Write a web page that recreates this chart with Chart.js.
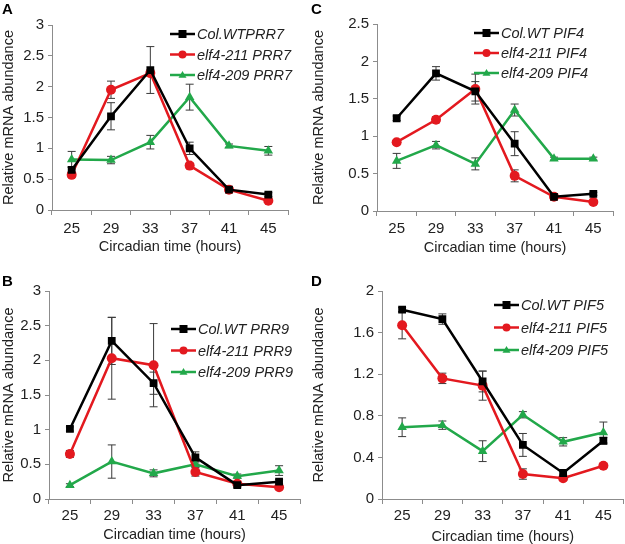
<!DOCTYPE html>
<html>
<head>
<meta charset="utf-8">
<script src="https://cdn.jsdelivr.net/npm/chart.js@4/dist/chart.umd.min.js"></script>
<style>
  body { margin: 0; background: #fff; }
  #wrap { position: relative; width: 625px; height: 544px; overflow: hidden; }
  .panel { position: absolute; }
  .tag { position: absolute; font: bold 15px "Liberation Sans", Arial, sans-serif; color: #000; }
</style>
</head>
<body>
<div id="wrap">
  <div class="panel" style="left:0;top:0;width:310px;height:270px"><canvas id="chartA"></canvas></div>
  <div class="panel" style="left:310px;top:0;width:315px;height:270px"><canvas id="chartC"></canvas></div>
  <div class="panel" style="left:0;top:270px;width:310px;height:274px"><canvas id="chartB"></canvas></div>
  <div class="panel" style="left:310px;top:270px;width:319px;height:274px"><canvas id="chartD"></canvas></div>
  <div class="tag" style="left:2px;top:0px">A</div>
  <div class="tag" style="left:311px;top:0px">C</div>
  <div class="tag" style="left:2px;top:272px">B</div>
  <div class="tag" style="left:311px;top:272px">D</div>
</div>
<script>
// --- DATA ---
const hours = ['25', '29', '33', '37', '41', '45'];

// A: PRR7
const prr7Wt = [0.65, 1.52, 2.27, 1.00, 0.33, 0.25];
const prr7WtErr = [0.05, 0.22, 0.38, 0.10, 0.03, 0.03];
const prr7E211 = [0.57, 1.95, 2.22, 0.72, 0.33, 0.15];
const prr7E211Err = [0.04, 0.14, 0.05, 0.04, 0.03, 0.02];
const prr7E209 = [0.82, 0.81, 1.10, 1.83, 1.04, 0.96];
const prr7E209Err = [0.13, 0.06, 0.11, 0.21, 0.03, 0.07];

// C: PIF4
const pif4Wt = [1.24, 1.84, 1.60, 0.90, 0.19, 0.23];
const pif4WtErr = [0.03, 0.09, 0.13, 0.16, 0.02, 0.02];
const pif4E211 = [0.92, 1.22, 1.63, 0.47, 0.19, 0.12];
const pif4E211Err = [0.02, 0.04, 0.20, 0.08, 0.02, 0.02];
const pif4E209 = [0.67, 0.88, 0.63, 1.35, 0.70, 0.70];
const pif4E209Err = [0.10, 0.05, 0.08, 0.08, 0.02, 0.02];

// B: PRR9
const prr9Wt = [1.01, 2.28, 1.67, 0.60, 0.20, 0.25];
const prr9WtErr = [0.03, 0.34, 0.16, 0.08, 0.03, 0.03];
const prr9E211 = [0.65, 2.03, 1.93, 0.39, 0.22, 0.17];
const prr9E211Err = [0.05, 0.59, 0.60, 0.06, 0.02, 0.02];
const prr9E209 = [0.20, 0.54, 0.37, 0.50, 0.33, 0.41];
const prr9E209Err = [0.02, 0.24, 0.05, 0.04, 0.03, 0.07];

// D: PIF5
const pif5Wt = [1.82, 1.73, 1.13, 0.52, 0.25, 0.56];
const pif5WtErr = [0.02, 0.05, 0.10, 0.11, 0.02, 0.03];
const pif5E211 = [1.67, 1.16, 1.09, 0.24, 0.20, 0.32];
const pif5E211Err = [0.13, 0.05, 0.14, 0.05, 0.02, 0.02];
const pif5E209 = [0.69, 0.71, 0.46, 0.81, 0.55, 0.64];
const pif5E209Err = [0.09, 0.04, 0.10, 0.03, 0.04, 0.10];

// --- STYLE ---
const FONT = '"Liberation Sans", Arial, sans-serif';
const BLACK = '#000000';
const RED = '#e3191f';
const GREEN = '#22a84a';
const AXIS = '#8c8c8c';
const ERRBAR = '#3a3a3a';

function series(label, values, errors, color, shape) {
    return {
        label: label,
        data: values,
        errors: errors,
        borderColor: color,
        backgroundColor: color,
        borderWidth: 2.5,
        pointStyle: shape,
        pointRadius: shape === 'rect' ? 5.5 : (shape === 'triangle' ? 5.5 : 5),
        pointBorderWidth: 0,
        tension: 0
    };
}

// error bars drawn from each dataset's errors array
const errorBars = {
    id: 'errorBars',
    beforeDatasetsDraw(chart) {
        const ctx = chart.ctx;
        const y = chart.scales.y;
        chart.data.datasets.forEach((ds, di) => {
            const meta = chart.getDatasetMeta(di);
            ctx.save();
            ctx.strokeStyle = ERRBAR;
            ctx.lineWidth = 1;
            meta.data.forEach((pt, i) => {
                const e = ds.errors[i];
                const top = y.getPixelForValue(ds.data[i] + e);
                const bot = y.getPixelForValue(ds.data[i] - e);
                ctx.beginPath();
                ctx.moveTo(pt.x, top); ctx.lineTo(pt.x, bot);
                ctx.moveTo(pt.x - 4, top); ctx.lineTo(pt.x + 4, top);
                ctx.moveTo(pt.x - 4, bot); ctx.lineTo(pt.x + 4, bot);
                ctx.stroke();
            });
            ctx.restore();
        });
    }
};

// legend inside the plot: short line with marker, italic label
const innerLegend = {
    id: 'innerLegend',
    afterDraw(chart, args, opts) {
        const ctx = chart.ctx;
        ctx.save();
        ctx.font = 'italic 14.5px ' + FONT;
        ctx.textBaseline = 'middle';
        chart.data.datasets.forEach((ds, i) => {
            const yy = opts.y + i * opts.gap;
            const cx = opts.x + 12.5;
            const r = 4;
            ctx.strokeStyle = ds.borderColor;
            ctx.lineWidth = 2.5;
            ctx.beginPath();
            ctx.moveTo(opts.x, yy); ctx.lineTo(opts.x + 25, yy);
            ctx.stroke();
            ctx.fillStyle = ds.borderColor;
            ctx.beginPath();
            if (ds.pointStyle === 'rect') ctx.rect(cx - r, yy - r, 2 * r, 2 * r);
            else if (ds.pointStyle === 'circle') ctx.arc(cx, yy, r, 0, Math.PI * 2);
            else { ctx.moveTo(cx, yy - r); ctx.lineTo(cx + r, yy + r * 0.7); ctx.lineTo(cx - r, yy + r * 0.7); ctx.closePath(); }
            ctx.fill();
            ctx.fillStyle = '#222';
            ctx.fillText(ds.label, opts.x + 27, yy + 1);
        });
        ctx.restore();
    }
};

function makeChart(id, sets, yMax, yStep, box, legendPos) {
    new Chart(document.getElementById(id), {
        type: 'line',
        data: { labels: hours, datasets: sets },
        plugins: [errorBars, innerLegend],
        options: {
            responsive: true,
            maintainAspectRatio: false,
            animation: false,
            layout: { padding: { left: 0, top: box.top, right: box.right, bottom: box.bottom } },
            plugins: {
                legend: { display: false },
                tooltip: { enabled: false },
                innerLegend: legendPos
            },
            scales: {
                x: {
                    offset: true,
                    grid: { offset: true, drawOnChartArea: false, drawTicks: true, tickLength: 5, color: AXIS },
                    border: { color: AXIS, width: 1 },
                    ticks: { color: '#222', font: { family: FONT, size: 15 }, padding: box.tickPad },
                    title: { display: true, text: 'Circadian time (hours)', color: '#222', font: { family: FONT, size: 14.5, lineHeight: 1 }, padding: { top: 0, bottom: 0 } },
                    afterFit(s) { s.height = box.xh; }
                },
                y: {
                    min: 0, max: yMax,
                    grid: { drawOnChartArea: false, drawTicks: true, tickLength: 4, color: AXIS },
                    border: { color: AXIS, width: 1 },
                    ticks: {
                        stepSize: yStep, color: '#222', font: { family: FONT, size: 15 }, padding: 4,
                        callback: v => String(Math.round(v * 10) / 10)
                    },
                    title: { display: true, text: 'Relative mRNA abundance', color: '#222', font: { family: FONT, size: 14.5, lineHeight: 1 }, padding: { top: 2, bottom: 2 } },
                    afterFit(s) { s.width = box.left; }
                }
            }
        }
    });
}

makeChart('chartA', [
    series('Col.WTPRR7', prr7Wt, prr7WtErr, BLACK, 'rect'),
    series('elf4-211 PRR7', prr7E211, prr7E211Err, RED, 'circle'),
    series('elf4-209 PRR7', prr7E209, prr7E209Err, GREEN, 'triangle')
], 3, 0.5, { left: 52, top: 25, right: 22, bottom: 15.5, xh: 44.5, tickPad: 5 }, { x: 170, y: 34, gap: 20.5 });

makeChart('chartC', [
    series('Col.WT PIF4', pif4Wt, pif4WtErr, BLACK, 'rect'),
    series('elf4-211 PIF4', pif4E211, pif4E211Err, RED, 'circle'),
    series('elf4-209 PIF4', pif4E209, pif4E209Err, GREEN, 'triangle')
], 2.5, 0.5, { left: 67, top: 24, right: 12, bottom: 14.5, xh: 44.5, tickPad: 4 }, { x: 164, y: 33, gap: 20 });

makeChart('chartB', [
    series('Col.WT PRR9', prr9Wt, prr9WtErr, BLACK, 'rect'),
    series('elf4-211 PRR9', prr9E211, prr9E211Err, RED, 'circle'),
    series('elf4-209 PRR9', prr9E209, prr9E209Err, GREEN, 'triangle')
], 3, 0.5, { left: 49, top: 21, right: 10, bottom: 1.5, xh: 43.5, tickPad: 3 }, { x: 171, y: 59, gap: 21.5 });

makeChart('chartD', [
    series('Col.WT PIF5', pif5Wt, pif5WtErr, BLACK, 'rect'),
    series('elf4-211 PIF5', pif5E211, pif5E211Err, RED, 'circle'),
    series('elf4-209 PIF5', pif5E209, pif5E209Err, GREEN, 'triangle')
], 2, 0.4, { left: 72, top: 21, right: 0, bottom: 0, xh: 45, tickPad: 3 }, { x: 184, y: 35, gap: 22.5 });
</script>
</body>
</html>
